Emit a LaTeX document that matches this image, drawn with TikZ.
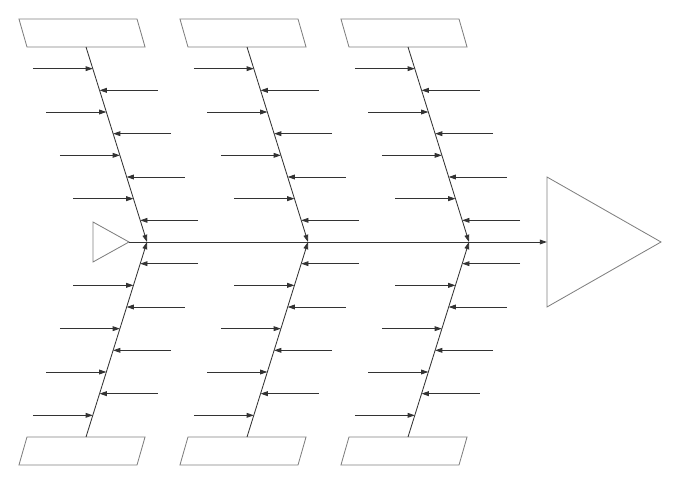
\documentclass[tikz,border=0pt]{standalone}
\usetikzlibrary{arrows.meta,shapes.geometric,calc}

\begin{document}
\begin{tikzpicture}[x=0.025cm, y=-0.025cm,
  cause/.style={draw=black!50, trapezium, inner xsep=1.375cm, inner ysep=0.35cm, outer sep=0pt},
  effect/.style={draw=black!50, isosceles triangle, isosceles triangle stretches,
                 inner sep=0pt, outer sep=0pt, anchor=apex},
  bone/.style={draw=black!80, ->},
  >={Triangle[length=1.8mm, width=1.2mm]}, line width=0.6pt]
  \useasboundingbox (0,0) rectangle (680,485);
  \node[effect, minimum width=1cm, minimum height=0.9cm] (tail) at (129,242) {};
  \node[effect, minimum width=3.25cm, minimum height=2.85cm] (head) at (661,242) {};
  \draw[bone] (tail.apex) -- (head.lower side);
  \foreach \g/\dx in {1/0,2/161,3/322} {
    \node[cause, trapezium left angle=106, trapezium right angle=74] (t\g) at (82+\dx,33) {};
    \node[cause, trapezium left angle=74, trapezium right angle=106] (b\g) at (82+\dx,451) {};
    \coordinate (j\g) at (147+\dx,242);
    \draw[bone] (t\g.bottom side) -- (j\g);
    \draw[bone] (b\g.top side) -- (j\g);
    % small causes, left ones odd, right ones even
    \foreach \k/\s in {1/-60,2/58,3/-60,4/58,5/-60,6/58,7/-60,8/58} {
      \coordinate (p) at ($(t\g.bottom side)!\k/9!(j\g)$);
      \draw[bone] ($(p)+(\s,0)$) -- (p);
      \coordinate (q) at ($(b\g.top side)!\k/9!(j\g)$);
      \draw[bone] ($(q)+(\s,0)$) -- (q);
    }
  }
\end{tikzpicture}
\end{document}
